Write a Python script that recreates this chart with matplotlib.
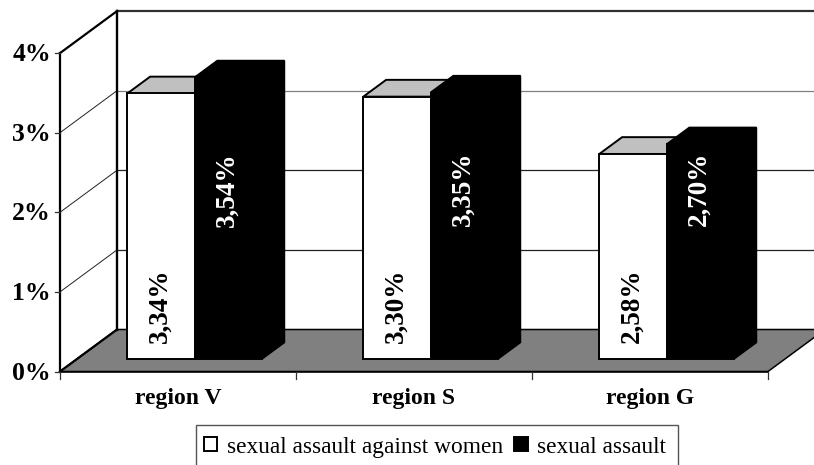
import matplotlib
matplotlib.use("Agg")
import matplotlib.pyplot as plt
from matplotlib.patches import Polygon, Patch, Rectangle

plt.rcParams['font.family'] = ['Liberation Serif', 'DejaVu Serif']

regions = ['region V', 'region S', 'region G']
women = [3.34, 3.30, 2.58]
overall = [3.54, 3.35, 2.70]
series_names = ['sexual assault against women', 'sexual assault']
y_ticks = [0, 1, 2, 3, 4]

W, H = 814, 465
X0, Y0 = 60.0, 371.5     # pixel of the origin
UX, UY = 236.0, 79.6     # pixels per category / per percent
DX, DY = 57.0, 42.0      # pixel shift of the full chart depth

fig = plt.figure(figsize=(W / 100, H / 100), dpi=100, facecolor='white')
ax = fig.add_axes([0, 0, 1, 1])
ax.set_xlim(-X0 / UX, (W - X0) / UX)
ax.set_ylim((Y0 - H) / UY, Y0 / UY)
ax.axis('off')


def pr(x, y, d=0.0):
    """Project category x, value y at depth d (0 front, 1 back) to data coords."""
    return (x + d * DX / UX, y + d * DY / UY)


n = len(regions)
far = n + 0.5
# floor
ax.add_patch(Polygon([pr(0, 0), pr(0, 0, 1), pr(n, 0, 1), pr(n, 0)], closed=True,
                     fc='#808080', ec='black', lw=1.1, zorder=1))
# wall grid
for t in y_ticks[1:]:
    thick = t == y_ticks[-1]
    c, lw = ('black', 1.6) if thick else ('#222222', 0.7)
    ax.plot(*zip(pr(0, t), pr(0, t, 1)), color=c, lw=lw, zorder=2)
    ax.plot(*zip(pr(0, t, 1), pr(far, t, 1)), color='#303030' if thick else ('#808080' if t == 3 else '#222222'),
            lw=1.6 if thick else 0.9, zorder=2)
ax.plot(*zip(pr(0, 0), pr(0, y_ticks[-1])), color='black', lw=1.6, zorder=2)
ax.plot(*zip(pr(0, 0, 1), pr(0, y_ticks[-1], 1)), color='black', lw=1.7, zorder=2)
ax.plot(*zip(pr(0, 0), pr(0, 0, 1)), color='black', lw=1.6, zorder=3)
ax.plot(*zip(pr(0, 0), pr(n, 0)), color='black', lw=1.1, zorder=3)

# ticks
for t in y_ticks:
    ax.plot([-5 / UX, 0], [t, t], color='#333333', lw=0.9, zorder=3)
    ax.text(-9 / UX, t - 1.5 / UY, f'{t}%', ha='right', va='center', fontsize=18.5,
            fontweight='bold', zorder=5)
for i in range(n + 1):
    ax.plot([i, i], [0, -7 / UY], color='#333333', lw=0.9, zorder=3)
for i, r in enumerate(regions):
    ax.text(i + 0.5, -27 / UY, r, ha='center', va='center', fontsize=17,
            fontweight='bold', zorder=5)

# bars
D0, D1 = 0.29, 0.69
BW = 67.2 / UX


def bar(x, v, face, top, side):
    l, r = x, x + BW
    ax.add_patch(Polygon([pr(r, 0, D0), pr(r, 0, D1), pr(r, v, D1), pr(r, v, D0)],
                         closed=True, fc=side, ec='black', lw=1.0, zorder=4))
    ax.add_patch(Polygon([pr(l, v, D0), pr(l, v, D1), pr(r, v, D1), pr(r, v, D0)],
                         closed=True, fc=top, ec='black', lw=1.4, zorder=4))
    ax.add_patch(Polygon([pr(l, 0, D0), pr(r, 0, D0), pr(r, v, D0), pr(l, v, D0)],
                         closed=True, fc=face, ec='black', lw=1.4, zorder=4))


def fmt(v):
    return f'{v:.2f}'.replace('.', ',') + '%'


for i in range(n):
    x = i + 0.5 - BW
    bar(x, women[i], 'white', '#c0c0c0', 'white')
    bar(x + BW, overall[i], 'black', 'black', 'black')
    cx, cy = pr(x + BW / 2, 0.0, D0)
    ax.text(cx - 0.5 / UX, 0.83, fmt(women[i]), rotation=90, ha='center', va='center',
            fontsize=19.5, fontweight='bold', color='black', zorder=6)
    ax.text(cx + BW - 1 / UX, 2.29, fmt(overall[i]), rotation=90, ha='center', va='center',
            fontsize=19.5, fontweight='bold', color='white', zorder=6)

# legend frame runs past the lower edge of the picture, as in the source
fig.add_artist(Rectangle((196 / W, (H - 472) / H), 482 / W, 47 / H, transform=fig.transFigure,
                         fc='white', ec='#555555', lw=1.0))
handles = [Patch(fc='white', ec='black', lw=1.4), Patch(fc='black', ec='black', lw=1.4)]
leg = fig.legend(handles, series_names, ncol=2, loc='center left',
                 bbox_to_anchor=(204 / W, (H - 447) / H), bbox_transform=fig.transFigure,
                 fontsize=16.8, frameon=False, borderaxespad=0, borderpad=0,
                 handlelength=0.57, handleheight=0.57, handletextpad=0.4, columnspacing=0.5)
leg.set_zorder(10)

fig.savefig('out.png', dpi=100)
